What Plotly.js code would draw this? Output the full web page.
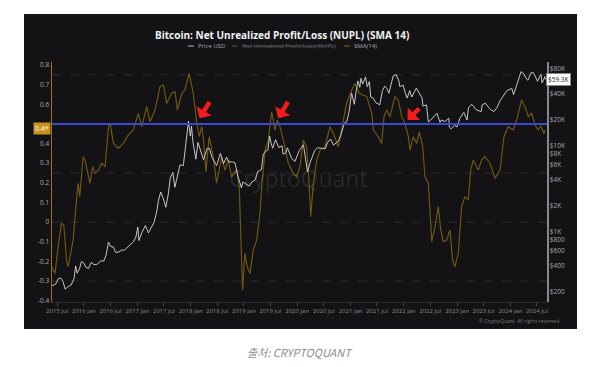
<!DOCTYPE html>
<html><head><meta charset="utf-8">
<script src="https://cdn.plot.ly/plotly-3.0.1.min.js"></script>
<style>html,body{margin:0;padding:0;background:#fff;}#chart{width:600px;height:367px;}</style>
</head><body><div id="chart"></div>
<script>
// ---- Data ----
const priceDates = ['2015-05-25','2015-06-20','2015-07-10','2015-07-25','2015-08-10','2015-08-25','2015-09-15','2015-10-05','2015-10-25','2015-11-05','2015-11-15','2015-12-01','2015-12-15','2016-01-01','2016-01-15','2016-02-01','2016-02-20','2016-03-10','2016-04-01','2016-04-25','2016-05-15','2016-06-01','2016-06-17','2016-07-01','2016-07-20','2016-08-05','2016-08-25','2016-09-15','2016-10-05','2016-10-25','2016-11-15','2016-12-05','2016-12-22','2017-01-04','2017-01-12','2017-02-01','2017-02-25','2017-03-18','2017-04-01','2017-04-25','2017-05-15','2017-05-25','2017-06-10','2017-06-25','2017-07-15','2017-08-01','2017-08-15','2017-09-01','2017-09-15','2017-10-01','2017-10-20','2017-11-12','2017-11-28','2017-12-08','2017-12-17','2017-12-30','2018-01-07','2018-01-17','2018-02-06','2018-02-20','2018-03-10','2018-03-30','2018-04-25','2018-05-10','2018-05-28','2018-06-28','2018-07-24','2018-08-14','2018-09-05','2018-09-20','2018-10-15','2018-11-01','2018-11-20','2018-12-15','2018-12-25','2019-01-15','2019-02-07','2019-02-25','2019-03-20','2019-04-05','2019-05-01','2019-05-14','2019-05-30','2019-06-15','2019-06-26','2019-07-05','2019-07-17','2019-08-06','2019-08-28','2019-09-20','2019-09-26','2019-10-15','2019-10-26','2019-11-25','2019-12-17','2020-01-15','2020-02-13','2020-03-12','2020-03-30','2020-04-30','2020-05-20','2020-06-15','2020-07-10','2020-07-28','2020-08-17','2020-09-06','2020-10-10','2020-10-25','2020-11-20','2020-12-05','2020-12-20','2021-01-08','2021-01-27','2021-02-10','2021-02-21','2021-03-05','2021-03-13','2021-03-25','2021-04-14','2021-04-25','2021-05-10','2021-05-19','2021-06-05','2021-06-22','2021-07-20','2021-08-07','2021-08-23','2021-09-07','2021-09-21','2021-10-08','2021-10-20','2021-11-09','2021-11-28','2021-12-04','2021-12-27','2022-01-10','2022-01-24','2022-02-10','2022-02-24','2022-03-28','2022-04-20','2022-05-06','2022-05-12','2022-06-05','2022-06-18','2022-07-05','2022-08-15','2022-09-06','2022-09-15','2022-10-10','2022-11-05','2022-11-09','2022-11-21','2022-12-15','2023-01-01','2023-01-20','2023-02-16','2023-03-10','2023-03-20','2023-04-13','2023-05-11','2023-06-15','2023-06-22','2023-07-13','2023-08-17','2023-09-11','2023-10-01','2023-10-24','2023-11-10','2023-12-08','2024-01-11','2024-01-23','2024-02-15','2024-03-05','2024-03-14','2024-04-01','2024-04-17','2024-05-01','2024-05-21','2024-06-07','2024-06-24','2024-07-05','2024-07-29','2024-08-05','2024-08-15','2024-08-24','2024-08-28'];
const priceUSD = [235,245,285,290,265,215,230,240,285,400,330,370,450,430,385,375,440,415,418,460,455,535,760,675,665,575,580,610,612,655,710,765,870,1130,790,980,1180,970,1080,1280,1750,2300,2900,2500,1930,2750,4300,4900,3300,4300,6000,5900,10000,16000,19300,13000,17000,11000,7000,11000,9000,6900,9400,9300,7300,5900,8200,6200,7400,6500,6500,6350,4500,3250,3800,3600,3400,3800,4000,5000,5300,8000,8700,9000,13000,11000,9400,11800,9600,10000,8000,8300,9500,7100,6600,8800,10300,5000,6400,8800,9500,9400,9200,11000,12000,10200,11400,13100,18500,19000,24000,41000,30500,45000,57000,48000,61000,52500,63500,49000,56000,37000,36000,32000,30000,44000,49500,46500,41000,54000,65000,67500,57000,49000,50800,41800,36000,44000,37000,47000,41000,36000,29000,30000,19000,20000,24000,18800,20000,19200,21000,16500,15800,17300,16600,21000,24500,20000,28000,30400,26300,25100,30000,31400,26500,25100,27900,34000,37300,44000,46500,39500,52000,64000,73000,69500,61000,58000,71000,71000,60500,56500,68000,54000,58500,64000,59300];

const smaDates = ['2015-05-25','2015-06-17','2015-07-08','2015-07-31','2015-08-16','2015-09-04','2015-09-15','2015-10-08','2015-10-19','2015-11-11','2015-11-22','2015-12-03','2015-12-15','2015-12-26','2016-01-08','2016-01-30','2016-02-11','2016-03-01','2016-03-17','2016-04-09','2016-05-02','2016-05-25','2016-06-17','2016-06-28','2016-07-21','2016-08-24','2016-09-27','2016-10-31','2016-12-04','2017-01-08','2017-01-31','2017-03-06','2017-03-29','2017-05-02','2017-06-05','2017-06-28','2017-07-21','2017-08-24','2017-09-16','2017-10-02','2017-11-01','2017-11-23','2017-12-22','2018-01-19','2018-02-12','2018-03-01','2018-03-18','2018-03-28','2018-04-16','2018-05-08','2018-06-05','2018-06-28','2018-08-02','2018-08-24','2018-09-16','2018-10-09','2018-11-12','2018-11-30','2018-12-16','2018-12-23','2019-01-08','2019-01-24','2019-02-12','2019-03-06','2019-03-29','2019-04-21','2019-05-03','2019-05-26','2019-06-17','2019-07-10','2019-08-02','2019-08-18','2019-09-05','2019-09-28','2019-11-01','2019-12-05','2019-12-28','2020-01-20','2020-02-12','2020-03-06','2020-03-24','2020-04-03','2020-04-21','2020-05-14','2020-06-06','2020-07-10','2020-08-13','2020-09-05','2020-10-09','2020-11-12','2020-12-05','2021-01-09','2021-02-01','2021-03-02','2021-04-22','2021-05-26','2021-06-06','2021-07-10','2021-08-02','2021-08-18','2021-09-06','2021-09-28','2021-11-01','2021-11-24','2021-12-17','2022-01-09','2022-02-01','2022-02-13','2022-03-07','2022-03-30','2022-04-17','2022-05-10','2022-05-26','2022-06-18','2022-07-04','2022-07-11','2022-08-03','2022-08-25','2022-09-11','2022-09-28','2022-10-22','2022-11-13','2022-12-01','2022-12-17','2023-01-09','2023-02-01','2023-02-24','2023-03-18','2023-04-04','2023-04-22','2023-05-26','2023-06-18','2023-07-10','2023-08-14','2023-09-18','2023-10-22','2023-11-18','2023-12-17','2024-01-21','2024-02-13','2024-03-18','2024-04-10','2024-05-03','2024-05-26','2024-06-18','2024-07-10','2024-07-29','2024-08-18','2024-08-25'];
const nuplSMA = [-0.227,-0.261,-0.125,-0.006,-0.015,-0.193,-0.227,-0.142,-0.091,0.113,0.198,0.129,0.231,0.333,0.316,0.249,0.198,0.282,0.249,0.265,0.300,0.282,0.486,0.503,0.401,0.376,0.401,0.444,0.469,0.554,0.486,0.588,0.511,0.571,0.690,0.698,0.605,0.656,0.664,0.571,0.656,0.673,0.758,0.656,0.503,0.435,0.486,0.435,0.255,0.435,0.333,0.198,0.333,0.265,0.316,0.231,0.265,0.180,-0.193,-0.346,-0.159,-0.227,-0.261,-0.142,-0.091,0.045,0.180,0.367,0.418,0.562,0.469,0.520,0.486,0.418,0.300,0.249,0.231,0.282,0.418,0.384,0.180,0.028,0.198,0.316,0.367,0.384,0.486,0.452,0.384,0.520,0.605,0.673,0.707,0.656,0.639,0.554,0.469,0.435,0.401,0.537,0.571,0.537,0.639,0.622,0.537,0.503,0.435,0.367,0.435,0.401,0.460,0.384,0.231,0.198,0.011,-0.099,-0.023,0.079,-0.040,-0.099,-0.091,-0.040,-0.193,-0.227,-0.159,0.079,0.129,0.113,0.265,0.316,0.265,0.316,0.333,0.300,0.223,0.265,0.435,0.486,0.469,0.520,0.622,0.588,0.537,0.554,0.494,0.469,0.490,0.450,0.470];

const thresholdValue = 0.5;
const thresholdLabel = '0.4*';
const lastPriceLabel = '$59.3K';

const xTickVals = ['2015-07-01','2016-01-01','2016-07-01','2017-01-01','2017-07-01','2018-01-01','2018-07-01','2019-01-01','2019-07-01','2020-01-01','2020-07-01','2021-01-01','2021-07-01','2022-01-01','2022-07-01','2023-01-01','2023-07-01','2024-01-01','2024-07-01'];
const xTickText = ['2015 Jul','2016 Jan','2016 Jul','2017 Jan','2017 Jul','2018 Jan','2018 Jul','2019 Jan','2019 Jul','2020 Jan','2020 Jul','2021 Jan','2021 Jul','2022 Jan','2022 Jul','2023 Jan','2023 Jul','2024 Jan','2024 Jul'];
const leftTickVals = [0.8,0.7,0.6,0.5,0.4,0.3,0.2,0.1,0,-0.1,-0.2,-0.3,-0.4];
const leftTickText = ['0.8','0.7','0.6','','0.4','0.3','0.2','0.1','0','-0.1','-0.2','-0.3','-0.4'];
const rightTickVals = [200,400,600,800,1000,2000,4000,6000,8000,10000,20000,40000,80000];
const rightTickText = ['$200','$400','$600','$800','$1K','$2K','$4K','$6K','$8K','$10K','$20K','$40K','$80K'];
const gridVals = [0.75,0.25,0,-0.3];

// ---- Layout helpers (pixel -> paper) ----
const L=52, R=547, T=62, B=302;
const px = x => (x-L)/(R-L);
const py = y => (B-y)/(B-T);
const FONT = 'Open Sans, Noto Sans, sans-serif';

const traces = [
  {x: smaDates, y: nuplSMA, type:'scatter', mode:'lines', name:'SMA(14)', yaxis:'y',
   line:{color:'#6e5513', width:1.2}, hoverinfo:'skip'},
  {x: priceDates, y: priceUSD, type:'scatter', mode:'lines', name:'Price USD', yaxis:'y2',
   line:{color:'#d9d9d9', width:0.9}, hoverinfo:'skip'}
];

const shapes = [
  {type:'rect', xref:'paper', yref:'paper', x0:px(24), x1:px(577), y0:py(329), y1:py(14),
   fillcolor:'#131316', line:{width:0}, layer:'below'}
];
gridVals.forEach(v => shapes.push({type:'line', xref:'paper', yref:'y', x0:0, x1:1, y0:v, y1:v,
  line:{color:'#2a2a2f', width:1, dash:'dash'}, layer:'below'}));
shapes.push({type:'line', xref:'paper', yref:'y', x0:0, x1:1, y0:thresholdValue, y1:thresholdValue,
  line:{color:'#3b4ad4', width:2}});
// legend swatches
[[188,194,'#bdbdbd'],[232,238,'#555555'],[344,350,'#8a6a14']].forEach(s => shapes.push({
  type:'line', xref:'paper', yref:'paper', x0:px(s[0]), x1:px(s[1]), y0:py(46), y1:py(46),
  line:{color:s[2], width:1}}));

const mid = {xanchor:'center', yanchor:'middle', showarrow:false};
const ann = [
  Object.assign({text:'<b>Bitcoin: Net Unrealized Profit/Loss (NUPL) (SMA 14)</b>', xref:'paper', yref:'paper',
   x:px(282), y:py(35), font:{family:FONT, size:10, color:'#f2f2f2'}}, mid),
  Object.assign({}, mid, {text:'Price USD', xref:'paper', yref:'paper', x:px(196), y:py(46), xanchor:'left',
   font:{family:FONT, size:6, color:'#a8a8a8'}}),
  Object.assign({}, mid, {text:'<s>Net Unrealized Profit/Loss (NUPL)</s>', xref:'paper', yref:'paper', x:px(240), y:py(46), xanchor:'left',
   font:{family:FONT, size:6, color:'#606060'}}),
  Object.assign({}, mid, {text:'SMA(14)', xref:'paper', yref:'paper', x:px(352), y:py(46), xanchor:'left',
   font:{family:FONT, size:6, color:'#a8a8a8'}}),
  Object.assign({}, mid, {text:'CryptoQuant', xref:'paper', yref:'paper', x:px(298), y:py(178),
   font:{family:FONT, size:23, color:'rgba(255,255,255,0.09)'}}),
  Object.assign({}, mid, {text:'© CryptoQuant. All rights reserved.', xref:'paper', yref:'paper', x:px(563), y:py(321), xanchor:'right',
   font:{family:FONT, size:5, color:'#777'}}),
  Object.assign({}, mid, {text:thresholdLabel, xref:'paper', yref:'y', x:px(51), y:0.478, xanchor:'right',
   bgcolor:'#c8901c', borderpad:1, font:{family:FONT, size:7, color:'#fff'}}),
  Object.assign({}, mid, {text:lastPriceLabel, xref:'paper', yref:'y2', x:px(546), y:Math.log10(priceUSD[priceUSD.length-1]), xanchor:'left',
   bgcolor:'#ffffff', bordercolor:'#888', borderwidth:1, borderpad:1, font:{family:FONT, size:6.5, color:'#222'}}),
  Object.assign({}, mid, {text:'출처: CRYPTOQUANT', xref:'paper', yref:'paper', x:px(300), y:py(352),
   font:{family:'Noto Sans CJK KR, sans-serif', size:11, color:'#8c8c8c', style:'italic'}})
];
// red arrows
[[199.5,118.3,11,-18],[278.3,118.3,10.5,-18],[407.7,120,13,-13]].forEach(a => ann.push({
  xref:'paper', yref:'paper', x:px(a[0]), y:py(a[1]), ax:a[2], ay:a[3], text:'', showarrow:true,
  arrowhead:1, arrowsize:0.65, arrowwidth:4.5, arrowcolor:'#f21c1c'}));

const layout = {
  width:600, height:367,
  margin:{l:L, r:600-R, t:T, b:367-B, pad:0},
  paper_bgcolor:'#ffffff', plot_bgcolor:'rgba(0,0,0,0)',
  showlegend:false,
  xaxis:{type:'date', range:['2015-05-27','2024-09-08'], tickvals:xTickVals, ticktext:xTickText,
    showgrid:false, zeroline:false, showline:true, linecolor:'#2a2a2e', linewidth:1,
    ticks:'outside', ticklen:3, tickcolor:'#444', tickfont:{family:FONT, size:6, color:'#8a8a8a'}},
  yaxis:{range:[-0.4066,0.8153], tickvals:leftTickVals, ticktext:leftTickText, showgrid:false, zeroline:false,
    showline:true, linecolor:'#9a7414', linewidth:1.5, ticks:'', tickfont:{family:FONT, size:6.5, color:'#a8a8a8'}},
  yaxis2:{type:'log', range:[2.1824,4.9763], overlaying:'y', side:'right', tickvals:rightTickVals, ticktext:rightTickText,
    showgrid:false, zeroline:false, showline:true, linecolor:'#8a8a8a', linewidth:1.5, ticks:'',
    tickfont:{family:FONT, size:6.5, color:'#a8a8a8'}},
  shapes:shapes, annotations:ann
};
Plotly.newPlot('chart', traces, layout, {staticPlot:true, displayModeBar:false});
</script></body></html>
